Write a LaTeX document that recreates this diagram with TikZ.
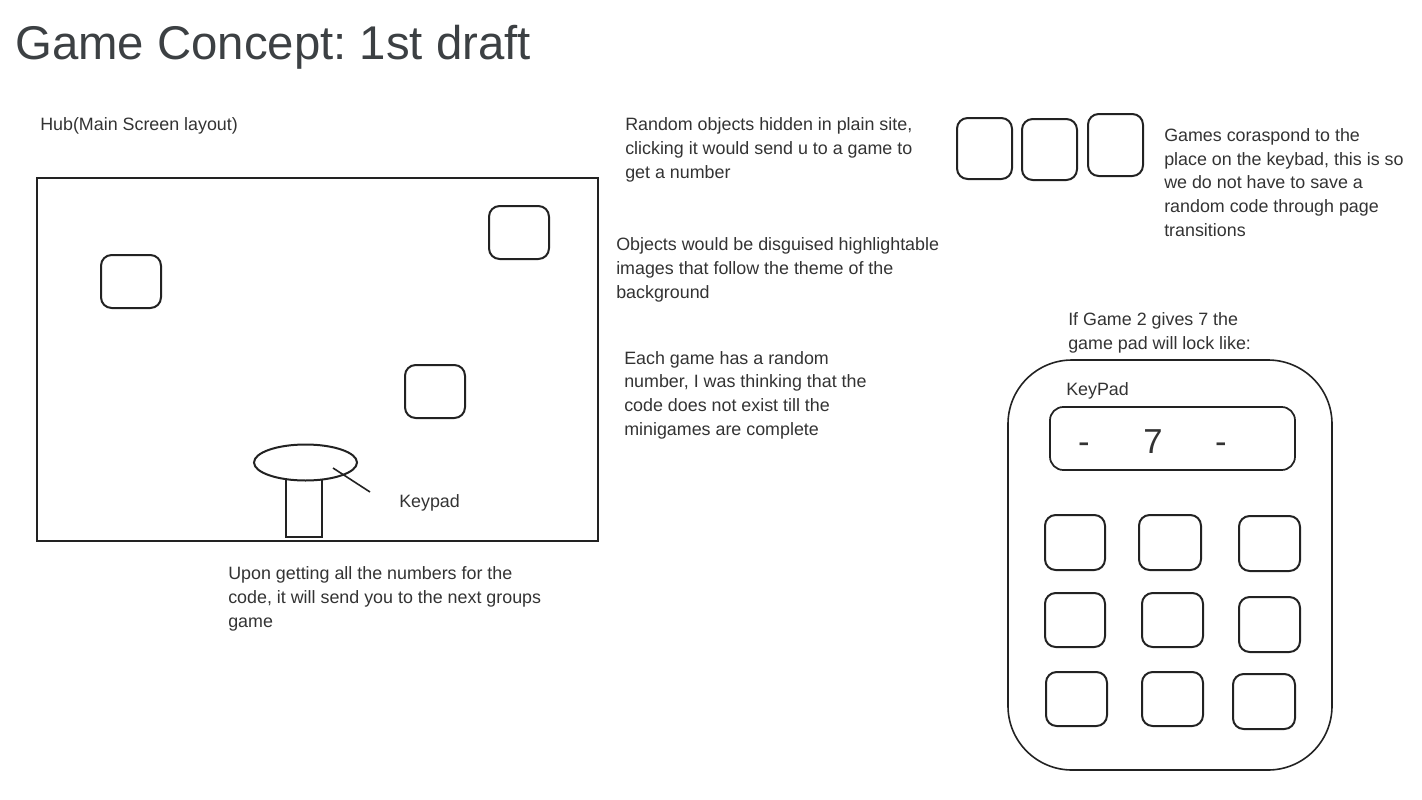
\documentclass[tikz,border=0pt]{standalone}
\usepackage{fontspec}
\setmainfont{Liberation Sans}
\frenchspacing
\definecolor{titlecol}{RGB}{60,64,67}
\definecolor{txt}{RGB}{51,51,51}
\definecolor{ink}{RGB}{34,34,34}
\begin{document}
\begin{tikzpicture}[x=0.75pt,y=-0.75pt,
  body/.style={anchor=base west,inner sep=0pt,align=left,text=txt,font=\fontsize{13.4}{17.7}\selectfont\frenchspacing},
  outl/.style={draw=ink,line width=1.5pt},
  btn/.style={outl,rounded corners=8pt}]
\useasboundingbox (0,0) rectangle (1422,800);
% title
\node[anchor=base west,inner sep=0pt,text=titlecol,font=\fontsize{35.5}{40}\selectfont\frenchspacing] (title) at (15,59) {Game Concept: 1st draft};
% hub
\node[body] (hublabel) at (40,130) {Hub(Main Screen layout)};
\draw[outl] (37,178) rectangle (598,541);
\draw[btn] (489,206) rectangle (549,259);
\draw[btn] (101,255) rectangle (161,308);
\draw[btn] (405,365) rectangle (465,418);
\draw[outl] (286,478) rectangle (322,537);
\draw[outl,fill=white] (305.5,462.5) ellipse [x radius=51.5, y radius=18];
\coordinate (ptA) at (333,468);
\coordinate (ptB) at (370,492);
\draw[outl,line width=1.2pt] (ptA) -- (ptB);
\node[body] (keypadlbl) at (399,507) {Keypad};
% base anchor of a multi-line node = baseline of its last line
\node[body] (upon) at (228,627) {Upon getting all the numbers for the\\code, it will send you to the next groups\\game};
% middle notes
\node[body] (random) at (625,178) {Random objects hidden in plain site,\\clicking it would send u to a game to\\get a number};
\node[body] (objects) at (616,298) {Objects would be disguised highlightable\\images that follow the theme of the\\background};
\node[body] (each) at (624,435) {Each game has a random\\number, I was thinking that the\\code does not exist till the\\minigames are complete};
% three squares
\draw[btn] (957,118) rectangle (1012,179);
\draw[btn] (1022,119) rectangle (1077,180);
\draw[btn] (1088,114) rectangle (1143,176);
\node[body] (games) at (1164,236) {Games coraspond to the\\place on the keybad, this is so\\we do not have to save a\\random code through page\\transitions};
\node[body] (ifgame) at (1068,349) {If Game 2 gives 7 the\\game pad will lock like:};
% keypad
\draw[outl,line width=1.2pt,rounded corners=48pt] (1008,360) rectangle (1332,770);
\node[body] (kp) at (1066,395) {KeyPad};
\draw[outl,line width=1.3pt,rounded corners=10pt] (1050,407) rectangle (1295,470);
\node[anchor=base,inner sep=0pt,text=txt,font=\fontsize{26}{30}\selectfont] (d1) at (1084,453) {-};
\node[anchor=base,inner sep=0pt,text=txt,font=\fontsize{26}{30}\selectfont] (d2) at (1153,453) {7};
\node[anchor=base,inner sep=0pt,text=txt,font=\fontsize{26}{30}\selectfont] (d3) at (1221,453) {-};
% buttons
\draw[btn] (1045,515) rectangle (1105,570);
\draw[btn] (1139,515) rectangle (1201,570);
\draw[btn] (1239,516) rectangle (1300,571);
\draw[btn] (1045,593) rectangle (1105,647);
\draw[btn] (1142,593) rectangle (1203,647);
\draw[btn] (1239,597) rectangle (1300,652);
\draw[btn] (1046,672) rectangle (1107,726);
\draw[btn] (1142,672) rectangle (1203,726);
\draw[btn] (1233,674) rectangle (1295,729);
\end{tikzpicture}
\end{document}
